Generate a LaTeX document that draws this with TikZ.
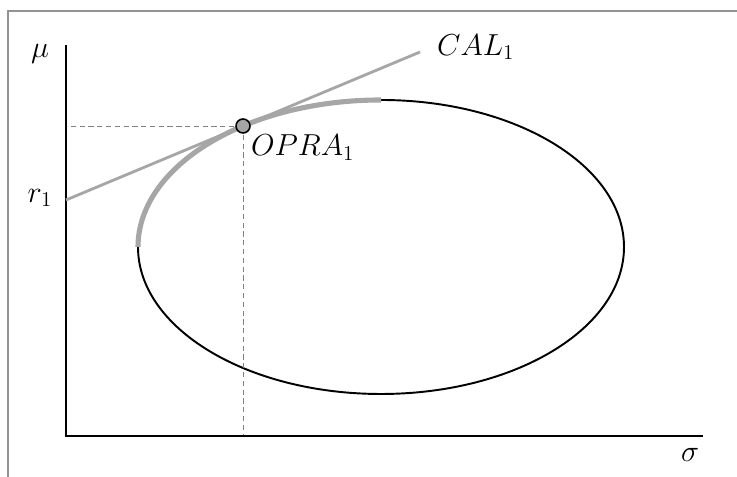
\documentclass[tikz,border=0pt]{standalone}
\usepackage{amsmath,amssymb}
\usepackage{xcolor}
\usepackage{tikz}
\usetikzlibrary{positioning,calc}

\begin{document}
\begin{tikzpicture}[
  frame/.style={draw=gray!85, line width=1pt},
  axis/.style={draw=black, line width=1.6pt},
  set/.style={draw=black, line width=1.1pt},
  frontier/.style={draw=black!35, line width=2.9pt},
  cal/.style={draw=black!35, line width=1.6pt},
  guide/.style={draw=gray, line width=0.5pt, dash pattern=on 3pt off 2pt},
  lbl/.style={font=\LARGE, inner sep=1pt},
  pt/.style={circle, draw=black, fill=black!35, line width=0.9pt, minimum size=0.28cm, inner sep=0pt}
]
\useasboundingbox (0,0) rectangle (14.74,9.54);
\draw[frame] (0.16,-0.2) |- (15,9.32);
\coordinate (origin) at (1.32,0.82);
\coordinate (ytop) at (1.32,8.64);
\coordinate (xend) at (14.06,0.82);
\coordinate (ctr) at (7.62,4.60);
\coordinate (opra) at ({7.62+4.86*cos(124.6)},{4.60+2.94*sin(124.6)});
\coordinate (r1) at (1.32,5.54);
\draw[set] (ctr) ellipse[x radius=4.86, y radius=2.94];
\draw[frontier] ($(ctr)+(-4.86,0)$) arc[start angle=180, end angle=90, x radius=4.86, y radius=2.94];
\draw[guide] (opra) -- (opra -| origin);
\draw[guide] (opra) -- (opra |- origin);
\draw[axis] (ytop) -- (origin) -- (xend);
\draw[cal] (r1) -- ($(r1)!2!(opra)$) coordinate (calend);
\node[pt] (optpt) at (opra) {};
\node[lbl] (mu) at (0.80,8.46) {$\mu$};
\node[lbl] (rlbl) at (0.80,5.58) {$r_1$};
\node[lbl] (sigma) at (13.80,0.44) {$\sigma$};
\node[lbl, anchor=west] (callbl) at ($(calend)+(0.30,0.10)$) {$CAL_1$};
\node[lbl, anchor=north west] (opralbl) at ($(opra)+(0.12,-0.14)$) {$OPRA_1$};
\end{tikzpicture}
\end{document}
